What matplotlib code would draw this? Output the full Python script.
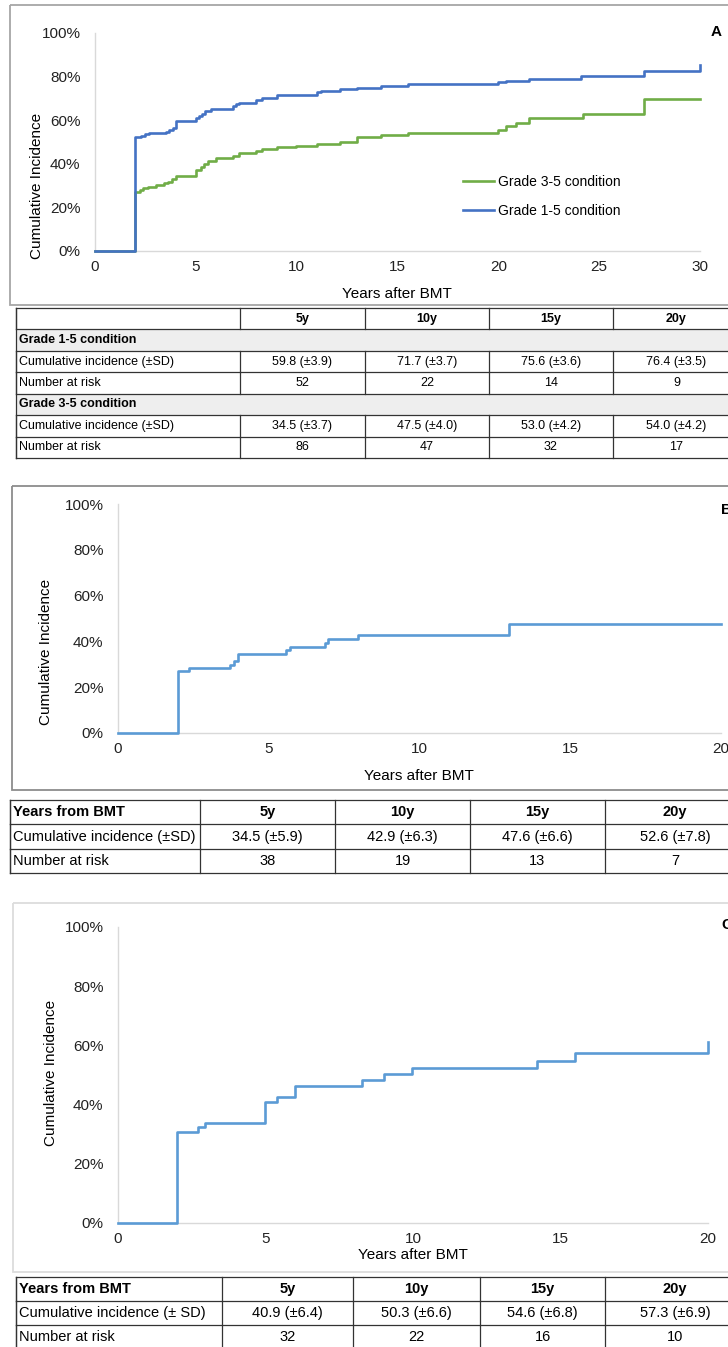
import numpy as np
import matplotlib
matplotlib.use("Agg")
import matplotlib.pyplot as plt
from matplotlib.patches import Rectangle
from matplotlib.ticker import PercentFormatter

plt.rcParams['font.family'] = ['Liberation Sans', 'DejaVu Sans']

# ---- data ----
years = ["5y", "10y", "15y", "20y"]

# panel A: grade 1-5 (blue) and grade 3-5 (green)
a_blue_t = [0, 2.0, 2.3, 2.5, 2.7, 3.5, 3.65, 3.85, 4.0, 5.0, 5.15, 5.3, 5.45, 5.75, 6.85, 7.0,
            7.15, 8.0, 8.3, 9.0, 11.0, 11.2, 12.15, 13.0, 14.2, 15.5, 20.0, 20.4, 21.5, 24.1, 27.2, 30.0]
a_blue_v = [0, 52.1, 52.8, 53.5, 54.1, 54.8, 55.5, 56.6, 59.8, 60.9, 61.7, 62.7, 64.0, 65.3, 66.3, 67.3,
            68.1, 69.3, 70.2, 71.7, 72.9, 73.6, 74.2, 75.0, 75.6, 76.4, 77.3, 78.2, 79.1, 80.1, 82.7, 85.4]
a_green_t = [0, 2.0, 2.25, 2.4, 2.65, 3.0, 3.4, 3.6, 3.8, 4.0, 5.0, 5.25, 5.4, 5.6, 6.0, 6.85, 7.15,
             8.0, 8.3, 9.0, 9.95, 11.0, 12.15, 13.0, 14.2, 15.5, 20.0, 20.4, 20.9, 21.5, 24.2, 27.2, 30.0]
a_green_v = [0, 27.1, 27.9, 28.7, 29.4, 30.1, 31.0, 31.7, 32.8, 34.5, 37.0, 38.5, 40.0, 41.2, 42.6, 43.7, 44.9,
             46.0, 46.8, 47.5, 48.3, 49.1, 50.0, 52.3, 53.0, 54.0, 55.6, 57.3, 58.8, 60.9, 62.9, 69.9, 69.9]

a_blue_ci = ["59.8 (±3.9)", "71.7 (±3.7)", "75.6 (±3.6)", "76.4 (±3.5)"]
a_blue_risk = ["52", "22", "14", "9"]
a_green_ci = ["34.5 (±3.7)", "47.5 (±4.0)", "53.0 (±4.2)", "54.0 (±4.2)"]
a_green_risk = ["86", "47", "32", "17"]

# panel B
b_t = [0, 2.0, 2.35, 3.72, 3.85, 3.98, 5.57, 5.72, 6.85, 6.98, 7.97, 12.98, 20.0]
b_v = [0, 26.9, 28.4, 29.8, 31.6, 34.5, 36.2, 37.7, 39.4, 41.0, 42.9, 47.6, 47.6]
b_ci = ["34.5 (±5.9)", "42.9 (±6.3)", "47.6 (±6.6)", "52.6 (±7.8)"]
b_risk = ["38", "19", "13", "7"]

# panel C
c_t = [0, 2.0, 2.7, 2.96, 4.99, 5.4, 6.0, 8.27, 9.0, 9.98, 14.2, 15.48, 20.0]
c_v = [0, 30.8, 32.4, 33.9, 40.9, 42.7, 46.4, 48.4, 50.3, 52.5, 54.6, 57.3, 61.0]
c_ci = ["40.9 (±6.4)", "50.3 (±6.6)", "54.6 (±6.8)", "57.3 (±6.9)"]
c_risk = ["32", "22", "16", "10"]

BLUE = '#4472C4'
GREEN = '#70AD47'
LBLUE = '#5B9BD5'

W, H = 728, 1347
fig = plt.figure(figsize=(W / 100, H / 100), dpi=100)

bg = fig.add_axes([0, 0, 1, 1])
bg.set_xlim(0, W)
bg.set_ylim(H, 0)
bg.axis('off')


def px_axes(x0, y0, x1, y1):
    return fig.add_axes([x0 / W, 1 - y1 / H, (x1 - x0) / W, (y1 - y0) / H])


def curve(plot, xmax, series):
    ax = px_axes(*plot)
    for t, v, col, lab in series:
        ax.step(t, np.array(v) / 100, where='post', color=col, lw=1.9, clip_on=False, label=lab, zorder=3)
    ax.set_xlim(0, xmax)
    ax.set_ylim(0, 1)
    ax.set_yticks(np.arange(0, 1.01, 0.2))
    ax.yaxis.set_major_formatter(PercentFormatter(1, decimals=0))
    ax.set_xticks(range(0, xmax + 1, 5))
    for s in ['top', 'right']:
        ax.spines[s].set_visible(False)
    for s in ['left', 'bottom']:
        ax.spines[s].set_color('#d9d9d9')
        ax.spines[s].set_linewidth(1.0)
    ax.tick_params(axis='y', length=0, labelsize=11, pad=10.5, colors='#222222')
    ax.tick_params(axis='x', length=0, labelsize=11, pad=6.5, colors='#222222')
    ax.patch.set_alpha(0)
    return ax


def table(x_edges, y_edges, rows, fs, lc='#333333'):
    # rows: list of (kind, cells); kind in 'head', 'group', 'body'
    x0, x1 = x_edges[0], x_edges[-1]
    for i, (kind, cells) in enumerate(rows):
        ya, yb = y_edges[i], y_edges[i + 1]
        yc = (ya + yb) / 2
        if kind == 'group':
            bg.add_patch(Rectangle((x0, ya), x1 - x0, yb - ya, color='#eeeeee', lw=0, zorder=1))
            bg.text(x0 + 3, yc, cells[0], fontsize=fs, fontweight='bold', va='center', ha='left', zorder=3)
        else:
            for j in range(len(x_edges) - 1):
                bg.plot([x_edges[j]] * 2, [ya, yb], color=lc, lw=0.9, zorder=2)
                txt = cells[j]
                if j == 0:
                    bg.text(x_edges[0] + 3, yc, txt, fontsize=fs, va='center', ha='left',
                            fontweight='bold' if kind == 'head' else 'normal', zorder=3)
                else:
                    bg.text((x_edges[j] + x_edges[j + 1]) / 2, yc, txt, fontsize=fs, va='center', ha='center',
                            fontweight='bold' if kind == 'head' else 'normal', zorder=3)
    for y in y_edges:
        bg.plot([x0, x1], [y, y], color=lc, lw=0.9, zorder=2)
    bg.plot([x0, x0], [y_edges[0], y_edges[-1]], color=lc, lw=0.9, zorder=2)


# ---------- panel A ----------
bg.add_patch(Rectangle((10, 5), 740, 300, fill=False, ec='#a6a6a6', lw=1.3))
axA = curve((95, 33, 700, 251), 30,
            [(a_green_t, a_green_v, GREEN, 'Grade 3-5 condition'),
             (a_blue_t, a_blue_v, BLUE, 'Grade 1-5 condition')])
axA.legend(loc='upper left', bbox_to_anchor=(463 / W, 1 - 175 / H), bbox_transform=fig.transFigure,
           frameon=False, fontsize=10, handlelength=2.2, handletextpad=0.3, labelspacing=1.05,
           borderpad=0, borderaxespad=0)
bg.text(716, 32, 'A', fontsize=11, fontweight='bold', ha='center', va='center')
bg.text(37, 186, 'Cumulative Incidence', fontsize=11, rotation=90, ha='center', va='center')
bg.text(397, 294, 'Years after BMT', fontsize=11, ha='center', va='center')

ya = np.linspace(308, 458, 8)
table([16, 240, 365, 489, 613, 740], ya,
      [('head', [''] + years),
       ('group', ['Grade 1-5 condition']),
       ('body', ['Cumulative incidence (±SD)'] + a_blue_ci),
       ('body', ['Number at risk'] + a_blue_risk),
       ('group', ['Grade 3-5 condition']),
       ('body', ['Cumulative incidence (±SD)'] + a_green_ci),
       ('body', ['Number at risk'] + a_green_risk)], fs=9)

# ---------- panel B ----------
bg.add_patch(Rectangle((12, 486), 740, 304, fill=False, ec='#8c8c8c', lw=1.3))
axB = curve((118, 504, 721, 733), 20, [(b_t, b_v, LBLUE, None)])
bg.text(721, 510, 'B', fontsize=11, fontweight='bold', ha='left', va='center')
bg.text(46, 652, 'Cumulative Incidence', fontsize=11, rotation=90, ha='center', va='center')
bg.text(419, 776, 'Years after BMT', fontsize=11, ha='center', va='center')

table([10, 200, 335, 470, 605, 745], [800, 824, 849, 873],
      [('head', ['Years from BMT'] + years),
       ('body', ['Cumulative incidence (±SD)'] + b_ci),
       ('body', ['Number at risk'] + b_risk)], fs=10.5)

# ---------- panel C ----------
bg.add_patch(Rectangle((13, 903), 740, 369, fill=False, ec='#dcdcdc', lw=1.3))
axC = curve((118, 927, 708, 1223), 20, [(c_t, c_v, LBLUE, None)])
bg.text(721, 925, 'C', fontsize=11, fontweight='bold', ha='left', va='center')
bg.text(51, 1073, 'Cumulative Incidence', fontsize=11, rotation=90, ha='center', va='center')
bg.text(413, 1255, 'Years after BMT', fontsize=11, ha='center', va='center')

table([16, 222, 353, 480, 605, 745], [1277, 1301, 1325, 1349],
      [('head', ['Years from BMT'] + years),
       ('body', ['Cumulative incidence (± SD)'] + c_ci),
       ('body', ['Number at risk'] + c_risk)], fs=10.5)

fig.savefig('out.png', dpi=100)
